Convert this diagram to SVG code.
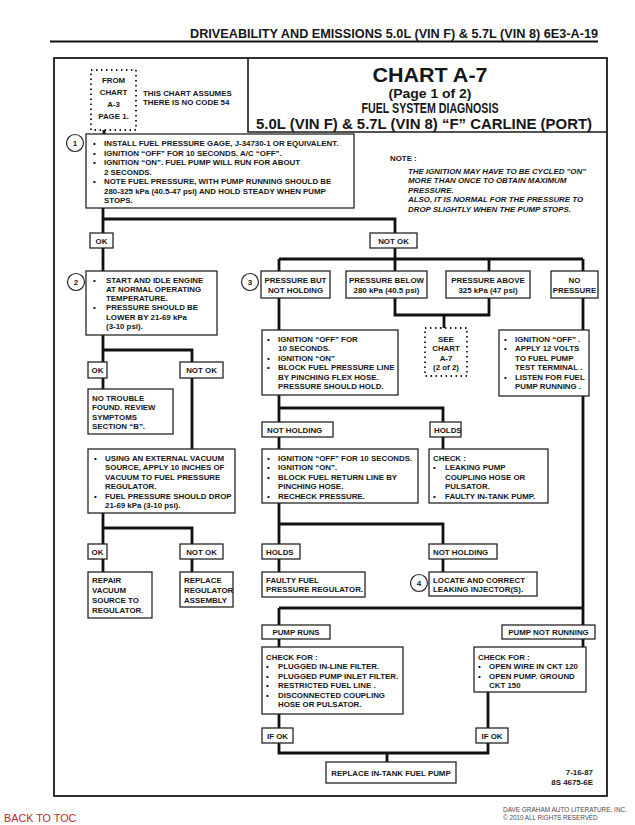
<svg xmlns="http://www.w3.org/2000/svg" width="635" height="825" viewBox="0 0 635 825">
<style>
.t{font-family:"Liberation Sans",Arial,sans-serif;font-weight:bold;font-size:7.9px;fill:#161616}
.c{text-anchor:middle}
.i{font-style:italic}
.box{fill:#fff;stroke:#262626;stroke-width:1.3}
.dot{fill:none;stroke:#161616;stroke-width:1.8;stroke-dasharray:1.4 3.6}
.conn{fill:none;stroke:#111;stroke-width:2.8}
.circ{fill:#fff;stroke:#262626;stroke-width:1.2}
</style>
<rect x="0" y="0" width="635" height="825" fill="#fff"/>
<g id="header">
<text class="t" x="190" y="37.5" style="font-size:12.6px" textLength="408" lengthAdjust="spacingAndGlyphs">DRIVEABILITY AND EMISSIONS  5.0L  (VIN F)  &amp;  5.7L  (VIN 8)  6E3-A-19</text>
<line x1="50" y1="41.5" x2="598" y2="41.5" stroke="#111" stroke-width="2"/>
</g>
<rect id="frame" x="54" y="58" width="553" height="738" fill="none" stroke="#1a1a1a" stroke-width="1.8"/>
<g id="connectors">
<path class="conn" d="M104,130 V134"/>
<path class="conn" d="M103,208 V233 M103,219 H395 V233"/>
<path class="conn" d="M103,248 V271"/>
<path class="conn" d="M395,248 V271 M279,259 H583 M279,259 V271 M489,259 V271 M583,259 V271"/>
<path class="conn" d="M395,298 V315 H489 V298 M444,315 V328"/>
<path class="conn" d="M279,298 V330"/>
<path class="conn" d="M583,298 V330"/>
<path class="conn" d="M279,395 V422 M279,408 H443 V422"/>
<path class="conn" d="M279,437 V449 M443,437 V449"/>
<path class="conn" d="M279,503 V544 M279,524 H443 V544"/>
<path class="conn" d="M279,558 V572 M443,558 V572"/>
<path class="conn" d="M583,396 V625 M279,608 H583 M279,608 V625"/>
<path class="conn" d="M279,639 V647 M583,639 V647"/>
<path class="conn" d="M279,714 V728 M488,692 V728"/>
<path class="conn" d="M279,743 V753 H488 V743 M387,753 V762"/>
<path class="conn" d="M103,335 V362 M103,350 H192 V362"/>
<path class="conn" d="M103,378 V389 M192,378 V449"/>
<path class="conn" d="M103,513 V544 M103,528 H192 V544"/>
<path class="conn" d="M103,558 V572 M192,558 V572"/>
</g>
<g id="n_title">
<path d="M248,58 V132 H607" fill="none" stroke="#1a1a1a" stroke-width="1.6"/>
<text class="t c" x="430" y="82" style="font-size:20px" textLength="115" lengthAdjust="spacingAndGlyphs">CHART A-7</text>
<text class="t c" x="430" y="97.5" style="font-size:13px" textLength="83" lengthAdjust="spacingAndGlyphs">(Page 1 of 2)</text>
<text class="t c" x="430" y="113" style="font-size:14px" textLength="137" lengthAdjust="spacingAndGlyphs">FUEL SYSTEM DIAGNOSIS</text>
<text class="t c" x="424" y="129" style="font-size:14.5px" textLength="336" lengthAdjust="spacingAndGlyphs">5.0L  (VIN F)  &amp;  5.7L  (VIN 8)  “F”  CARLINE  (PORT)</text>
</g>
<g id="n_from">
<rect class="dot" x="91" y="70" width="45" height="60"/>
<text class="t c" x="113.5" y="82.5">FROM</text>
<text class="t c" x="113.5" y="94.5">CHART</text>
<text class="t c" x="113.5" y="106.5">A-3</text>
<text class="t c" x="113.5" y="118.5">PAGE 1.</text>
</g>
<g id="n_assume">
<text class="t" x="143" y="95.5">THIS CHART ASSUMES</text>
<text class="t" x="143" y="104.5">THERE IS NO CODE 54</text>
</g>
<g id="n_step1">
<circle class="circ" cx="75" cy="143" r="8.5"/>
<text class="t c" x="75" y="146">1</text>
<rect class="box" x="86" y="134" width="268" height="74"/>
<text class="t" x="93" y="146">•</text><text class="t" x="104" y="146">INSTALL FUEL PRESSURE GAGE, J-34730-1 OR  EQUIVALENT.</text>
<text class="t" x="93" y="155.5">•</text><text class="t" x="104" y="155.5">IGNITION “OFF” FOR 10 SECONDS.  A/C “OFF”.</text>
<text class="t" x="93" y="165">•</text><text class="t" x="104" y="165">IGNITION “ON”.  FUEL PUMP WILL RUN FOR ABOUT</text>
<text class="t" x="104" y="174.5">2 SECONDS.</text>
<text class="t" x="93" y="184">•</text><text class="t" x="104" y="184">NOTE FUEL PRESSURE, WITH PUMP RUNNING  SHOULD BE</text>
<text class="t" x="104" y="193.5">280-325 kPa  (40.5-47 psi) AND HOLD STEADY WHEN PUMP</text>
<text class="t" x="104" y="203">STOPS.</text>
</g>
<g id="n_note">
<text class="t" x="390" y="161">NOTE :</text>
<text class="t i" x="408" y="173.5">THE IGNITION MAY HAVE TO BE CYCLED "ON"</text>
<text class="t i" x="408" y="183">MORE THAN ONCE TO OBTAIN MAXIMUM</text>
<text class="t i" x="408" y="192.5">PRESSURE.</text>
<text class="t i" x="408" y="202">ALSO, IT IS NORMAL FOR THE PRESSURE TO</text>
<text class="t i" x="408" y="211.5">DROP SLIGHTLY WHEN THE PUMP STOPS.</text>
</g>
<g id="n_ok1"><rect class="box" x="90" y="233" width="23" height="15"/><text class="t c" x="101.5" y="243.5">OK</text></g>
<g id="n_notok1"><rect class="box" x="370" y="233" width="47" height="15"/><text class="t c" x="393.5" y="243.5">NOT OK</text></g>
<g id="n_step2">
<circle class="circ" cx="76" cy="282" r="8.5"/>
<text class="t c" x="76" y="285">2</text>
<rect class="box" x="86" y="271" width="131" height="64"/>
<text class="t" x="93" y="282.5">•</text><text class="t" x="106" y="282.5">START AND IDLE ENGINE</text>
<text class="t" x="106" y="291.8">AT NORMAL OPERATING</text>
<text class="t" x="106" y="301.1">TEMPERATURE.</text>
<text class="t" x="93" y="310.4">•</text><text class="t" x="106" y="310.4">PRESSURE SHOULD BE</text>
<text class="t" x="106" y="319.7">LOWER BY 21-69 kPa</text>
<text class="t" x="106" y="329">(3-10 psi).</text>
</g>
<g id="n_ok2"><rect class="box" x="88" y="362" width="19" height="16"/><text class="t c" x="97.5" y="373">OK</text></g>
<g id="n_notok2"><rect class="box" x="180" y="362" width="43" height="16"/><text class="t c" x="201.5" y="373">NOT OK</text></g>
<g id="n_notrouble">
<rect class="box" x="88" y="389" width="85" height="45"/>
<text class="t" x="92" y="400.5">NO TROUBLE</text>
<text class="t" x="92" y="410">FOUND. REVIEW</text>
<text class="t" x="92" y="419.5">SYMPTOMS</text>
<text class="t" x="92" y="429">SECTION “B”.</text>
</g>
<g id="n_vacuum">
<rect class="box" x="88" y="449" width="147" height="64"/>
<text class="t" x="94" y="460.5">•</text><text class="t" x="105" y="460.5">USING AN EXTERNAL VACUUM</text>
<text class="t" x="105" y="470">SOURCE, APPLY 10 INCHES OF</text>
<text class="t" x="105" y="479.5">VACUUM TO FUEL PRESSURE</text>
<text class="t" x="105" y="489">REGULATOR.</text>
<text class="t" x="94" y="498.5">•</text><text class="t" x="105" y="498.5">FUEL PRESSURE SHOULD DROP</text>
<text class="t" x="105" y="508">21-69 kPa  (3-10 psi).</text>
</g>
<g id="n_ok3"><rect class="box" x="88" y="544" width="19" height="15"/><text class="t c" x="97.5" y="554.5">OK</text></g>
<g id="n_notok3"><rect class="box" x="180" y="544" width="43" height="15"/><text class="t c" x="201.5" y="554.5">NOT OK</text></g>
<g id="n_repair">
<rect class="box" x="88" y="572" width="64" height="46"/>
<text class="t" x="92" y="582.5">REPAIR</text>
<text class="t" x="92" y="592.5">VACUUM</text>
<text class="t" x="92" y="602.5">SOURCE TO</text>
<text class="t" x="92" y="612.5">REGULATOR.</text>
</g>
<g id="n_replreg">
<rect class="box" x="180" y="572" width="53" height="35"/>
<text class="t" x="184" y="582.5">REPLACE</text>
<text class="t" x="184" y="592.5">REGULATOR</text>
<text class="t" x="184" y="602.5">ASSEMBLY</text>
</g>
<g id="n_step3"><circle class="circ" cx="250" cy="282" r="8.5"/><text class="t c" x="250" y="285">3</text></g>
<g id="n_pbut"><rect class="box" x="261" y="271" width="69" height="27"/><text class="t c" x="295.5" y="282.5">PRESSURE  BUT</text><text class="t c" x="295.5" y="292.5">NOT HOLDING</text></g>
<g id="n_pbelow"><rect class="box" x="346" y="271" width="81" height="27"/><text class="t c" x="386.5" y="282.5">PRESSURE BELOW</text><text class="t c" x="386.5" y="292.5">280 kPa  (40.5 psi)</text></g>
<g id="n_pabove"><rect class="box" x="446" y="271" width="84" height="27"/><text class="t c" x="488" y="282.5">PRESSURE ABOVE</text><text class="t c" x="488" y="292.5">325 kPa  (47 psi)</text></g>
<g id="n_nopress"><rect class="box" x="551" y="271" width="47" height="27"/><text class="t c" x="574.5" y="282.5">NO</text><text class="t c" x="574.5" y="292.5">PRESSURE</text></g>
<g id="n_ign1">
<rect class="box" x="262" y="330" width="136" height="65"/>
<text class="t" x="267" y="341.5">•</text><text class="t" x="278" y="341.5">IGNITION “OFF” FOR</text>
<text class="t" x="278" y="351">10 SECONDS.</text>
<text class="t" x="267" y="360.5">•</text><text class="t" x="278" y="360.5">IGNITION “ON”</text>
<text class="t" x="267" y="370">•</text><text class="t" x="278" y="370">BLOCK FUEL PRESSURE LINE</text>
<text class="t" x="278" y="379.5">BY PINCHING FLEX HOSE.</text>
<text class="t" x="278" y="389">PRESSURE SHOULD HOLD.</text>
</g>
<g id="n_seechart">
<rect class="dot" x="425" y="328" width="42" height="48"/>
<text class="t c" x="446" y="341.5">SEE</text>
<text class="t c" x="446" y="351">CHART</text>
<text class="t c" x="446" y="360.5">A-7</text>
<text class="t c" x="446" y="370">(2 of 2)</text>
</g>
<g id="n_listen">
<rect class="box" x="499" y="330" width="90" height="66"/>
<text class="t" x="504" y="341.5">•</text><text class="t" x="515" y="341.5">IGNITION “OFF” .</text>
<text class="t" x="504" y="351">•</text><text class="t" x="515" y="351">APPLY 12 VOLTS</text>
<text class="t" x="515" y="360.5">TO FUEL PUMP</text>
<text class="t" x="515" y="370">TEST TERMINAL .</text>
<text class="t" x="504" y="379.5">•</text><text class="t" x="515" y="379.5">LISTEN FOR FUEL</text>
<text class="t" x="515" y="389">PUMP RUNNING .</text>
</g>
<g id="n_nothold1"><rect class="box" x="262" y="422" width="71" height="15"/><text class="t" x="267" y="432.5">NOT HOLDING</text></g>
<g id="n_holds1"><rect class="box" x="430" y="422" width="31" height="15"/><text class="t" x="434" y="432.5">HOLDS</text></g>
<g id="n_retline">
<rect class="box" x="262" y="449" width="156" height="54"/>
<text class="t" x="267" y="460.5">•</text><text class="t" x="278" y="460.5">IGNITION “OFF” FOR 10 SECONDS.</text>
<text class="t" x="267" y="470">•</text><text class="t" x="278" y="470">IGNITION “ON”.</text>
<text class="t" x="267" y="479.5">•</text><text class="t" x="278" y="479.5">BLOCK  FUEL RETURN LINE BY</text>
<text class="t" x="278" y="489">PINCHING HOSE.</text>
<text class="t" x="267" y="498.5">•</text><text class="t" x="278" y="498.5">RECHECK PRESSURE.</text>
</g>
<g id="n_check1">
<rect class="box" x="429" y="449" width="119" height="54"/>
<text class="t" x="433" y="460.5">CHECK :</text>
<text class="t" x="433" y="470">•</text><text class="t" x="445" y="470">LEAKING PUMP</text>
<text class="t" x="445" y="479.5">COUPLING HOSE OR</text>
<text class="t" x="445" y="489">PULSATOR.</text>
<text class="t" x="433" y="498.5">•</text><text class="t" x="445" y="498.5">FAULTY IN-TANK PUMP.</text>
</g>
<g id="n_holds2"><rect class="box" x="262" y="544" width="38" height="15"/><text class="t" x="266" y="554.5">HOLDS</text></g>
<g id="n_nothold2"><rect class="box" x="429" y="544" width="68" height="15"/><text class="t" x="433" y="554.5">NOT HOLDING</text></g>
<g id="n_faulty">
<rect class="box" x="262" y="572" width="103" height="25"/>
<text class="t" x="266" y="582.5">FAULTY  FUEL</text>
<text class="t" x="266" y="592">PRESSURE REGULATOR.</text>
</g>
<g id="n_step4"><circle class="circ" cx="419" cy="583" r="8.5"/><text class="t c" x="419" y="586">4</text></g>
<g id="n_locate">
<rect class="box" x="429" y="572" width="108" height="24"/>
<text class="t" x="433" y="582.5">LOCATE  AND  CORRECT</text>
<text class="t" x="433" y="592">LEAKING INJECTOR(S).</text>
</g>
<g id="n_pumpruns"><rect class="box" x="262" y="625" width="68" height="14"/><text class="t c" x="296" y="634.8">PUMP RUNS</text></g>
<g id="n_pumpnot"><rect class="box" x="502" y="625" width="93" height="14"/><text class="t c" x="548.5" y="634.8">PUMP NOT RUNNING</text></g>
<g id="n_checkfor1">
<rect class="box" x="262" y="647" width="141" height="67"/>
<text class="t" x="266" y="659.5">CHECK FOR :</text>
<text class="t" x="266" y="669">•</text><text class="t" x="278" y="669">PLUGGED IN-LINE FILTER.</text>
<text class="t" x="266" y="678.5">•</text><text class="t" x="278" y="678.5">PLUGGED PUMP INLET FILTER.</text>
<text class="t" x="266" y="688">•</text><text class="t" x="278" y="688">RESTRICTED FUEL LINE .</text>
<text class="t" x="266" y="697.5">•</text><text class="t" x="278" y="697.5">DISCONNECTED COUPLING</text>
<text class="t" x="278" y="707">HOSE OR PULSATOR.</text>
</g>
<g id="n_checkfor2">
<rect class="box" x="474" y="647" width="112" height="45"/>
<text class="t" x="478" y="659.5">CHECK FOR :</text>
<text class="t" x="478" y="669">•</text><text class="t" x="489" y="669">OPEN WIRE IN CKT 120</text>
<text class="t" x="478" y="678.5">•</text><text class="t" x="489" y="678.5">OPEN PUMP. GROUND</text>
<text class="t" x="489" y="688">CKT 150</text>
</g>
<g id="n_ifok1"><rect class="box" x="262" y="728" width="31" height="15"/><text class="t c" x="277.5" y="738.5">IF OK</text></g>
<g id="n_ifok2"><rect class="box" x="476" y="728" width="32" height="15"/><text class="t c" x="492" y="738.5">IF OK</text></g>
<g id="n_replace"><rect class="box" x="326" y="762" width="130" height="21"/><text class="t c" x="391" y="775.5">REPLACE  IN-TANK FUEL PUMP</text></g>
<g id="n_date">
<text class="t" x="593" y="775" text-anchor="end">7-16-87</text>
<text class="t" x="593" y="784.5" text-anchor="end">8S 4675-6E</text>
</g>
<g id="footer">
<text x="4" y="822" style="font-family:'Liberation Sans',Arial,sans-serif;font-size:10.8px;fill:#c0282d">BACK TO TOC</text>
<text x="503" y="812" style="font-family:'Liberation Sans',Arial,sans-serif;font-size:6.3px;fill:#4a4a4a" textLength="124" lengthAdjust="spacingAndGlyphs">DAVE GRAHAM AUTO LITERATURE, INC.</text>
<text x="503" y="820" style="font-family:'Liberation Sans',Arial,sans-serif;font-size:6.3px;fill:#4a4a4a">© 2010 ALL RIGHTS RESERVED</text>
</g>
</svg>
